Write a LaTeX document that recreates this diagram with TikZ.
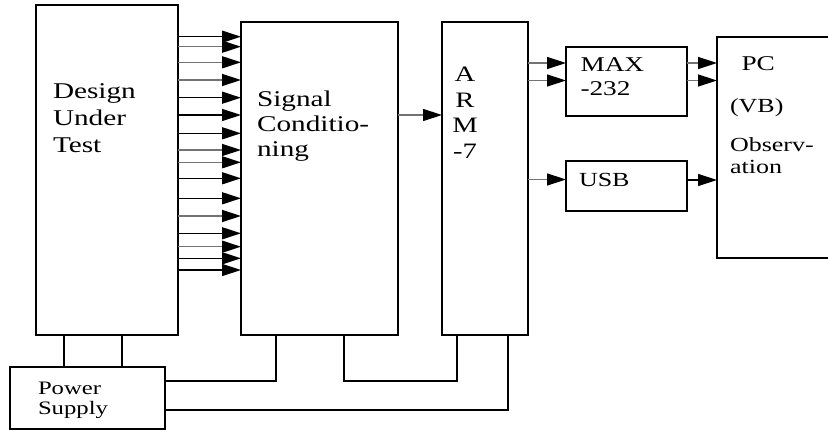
\documentclass[tikz,border=0pt]{standalone}
\usepackage{fontspec}
\setmainfont{Liberation Serif}[FakeStretch=1.3]
\usetikzlibrary{arrows.meta}
\definecolor{WireGray}{gray}{0.45}
\newcommand{\boxlw}{2pt}
\newcommand{\wirelw}{1.4pt}
\tikzset{
    blk/.style={draw=black,line width=\boxlw,inner sep=0pt,outer sep=0pt,anchor=north west},
    lbl/.style={inner sep=0pt,outer sep=0pt,anchor=north west,align=left,font=\fontsize{22.5}{26.7}\selectfont},
    sig/.style={draw=black,line width=\wirelw,-{Triangle[length=19pt,width=12pt,color=black]}},
    siggray/.style={sig,draw=WireGray},
    pwr/.style={draw=black,line width=\boxlw},
}

\begin{document}
\begin{tikzpicture}[x=1pt,y=-1pt]
    \useasboundingbox (0,0) rectangle (828,430);    % Freeze the bounding box
    % --- --- --- Blocks
    \node[blk,minimum width=142pt,minimum height=330pt] (DUT) at (36,5) {};
    \node[blk,minimum width=157pt,minimum height=313pt] (SC) at (241,22) {};
    \node[blk,minimum width=86pt,minimum height=313pt] (ARM) at (442,22) {};
    \node[blk,minimum width=121pt,minimum height=69pt] (MAX) at (566,47) {};
    \node[blk,minimum width=121pt,minimum height=50pt] (USB) at (566,161) {};
    \node[blk,minimum width=125pt,minimum height=221pt] (PC) at (717,37) {};
    \node[blk,minimum width=155pt,minimum height=62pt] (PS) at (10,367) {};
    % --- --- --- Labels
    \node[lbl] (tDUT) at (53,84) {Design\\Under\\Test};
    \node[lbl,font=\fontsize{22.5}{25}\selectfont] (tSC) at (257,90.5) {Signal\\Conditio-\\ning};
    \node[lbl,anchor=north,align=center,font=\fontsize{22}{25.5}\selectfont] (tARM) at (465,67) {A\\R\\M\\-7};
    \node[lbl,font=\fontsize{21}{24}\selectfont] (tMAX) at (580.5,57.5) {MAX\\-232};
    \node[lbl,font=\fontsize{20}{24}\selectfont] (tUSB) at (579,173.5) {USB};
    \node[lbl,font=\fontsize{21}{24}\selectfont] (tPC) at (741.5,56.5) {PC};
    \node[lbl,font=\fontsize{20}{21.6}\selectfont] (tVB) at (730,99) {(VB)\\[17pt]Observ-\\ation};
    \node[lbl,font=\fontsize{19}{20}\selectfont] (tPS) at (38,382.5) {Power\\Supply};
    % === === === Parallel lines DUT -> SC
    \foreach \y in {36.7,97.7,115,133.3,178.3,198.3,233.3,258.3,270}
        \draw[sig] (DUT.east |- 0,\y) -- (SC.west |- 0,\y);
    \foreach \y in {46.7,62.3,80,150,162.3,216,246.7}
        \draw[siggray] (DUT.east |- 0,\y) -- (SC.west |- 0,\y);
    % === === === SC -> ARM -> MAX/USB -> PC
    \draw[siggray] (SC.east |- 0,115) -- (ARM.west |- 0,115);
    \draw[siggray] (ARM.east |- 0,63) -- (MAX.west |- 0,63);
    \draw[siggray] (ARM.east |- 0,80.5) -- (MAX.west |- 0,80.5);
    \draw[siggray] (MAX.east |- 0,63) -- (PC.west |- 0,63);
    \draw[siggray] (MAX.east |- 0,80.5) -- (PC.west |- 0,80.5);
    \draw[siggray] (ARM.east |- 0,179.5) -- (USB.west |- 0,179.5);
    \draw[sig] (USB.east |- 0,180) -- (PC.west |- 0,180);
    % === === === Power supply wiring
    \draw[pwr] (DUT.south -| 64,0) -- (PS.north -| 64,0);
    \draw[pwr] (DUT.south -| 122,0) -- (PS.north -| 122,0);
    \draw[pwr] (PS.east |- 0,381) -| (SC.south -| 275.5,0);
    \draw[pwr] (SC.south -| 344,0) -- ++(0,46) -| (ARM.south -| 457,0);
    \draw[pwr] (PS.east |- 0,410) -| (ARM.south -| 508,0);
\end{tikzpicture}
\end{document}
